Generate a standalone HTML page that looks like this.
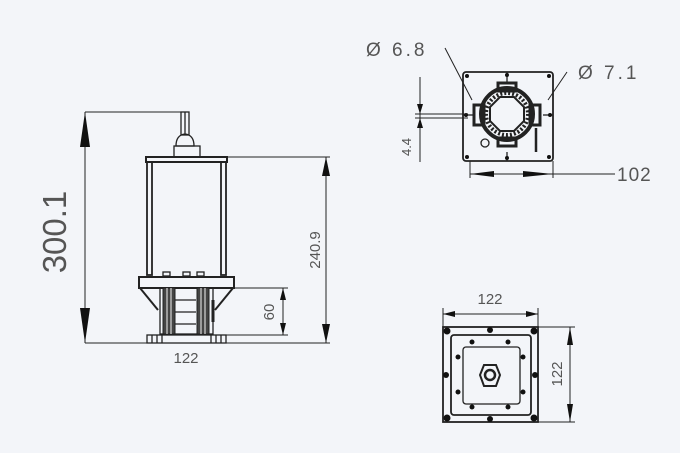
<!DOCTYPE html>
<html><head><meta charset="utf-8"><style>
html,body{margin:0;padding:0;background:#f3f5f9;}
svg{display:block;}
text{font-family:"Liberation Sans",sans-serif;fill:#555;}
</style></head><body>
<svg width="680" height="453" viewBox="0 0 680 453" xmlns="http://www.w3.org/2000/svg">
<rect width="680" height="453" fill="#f3f5f9"/>
<g stroke="#222" fill="none" stroke-width="1">
<line x1="85" y1="112" x2="185" y2="112"/>
<line x1="85" y1="112" x2="85" y2="343"/>
<line x1="85" y1="343" x2="330" y2="343"/>
</g>
<polygon points="85,112 80,147 90,147" fill="#111"/>
<polygon points="85,343 80,308 90,308" fill="#111"/>
<text transform="translate(66,232) rotate(-90)" font-size="33" text-anchor="middle" fill="#8a8a8a">300.1</text>

<g stroke="#222" fill="none" stroke-width="1.3">
<rect x="181" y="112" width="8" height="23"/>
<line x1="185" y1="112" x2="185" y2="135"/>
<path d="M176,146 Q176,135 185,134 Q194,135 194,146 Z"/>
<rect x="174" y="146" width="26" height="11"/>
<rect x="146" y="157" width="81" height="5" stroke-width="2"/>
<rect x="147" y="162" width="5" height="113" stroke-width="1.8"/>
<rect x="221" y="162" width="5" height="113" stroke-width="1.8"/>
<rect x="163" y="272" width="7" height="4"/>
<rect x="183" y="272" width="7" height="4"/>
<rect x="197" y="272" width="7" height="4"/>
<rect x="139" y="277" width="95" height="11" stroke-width="2"/>
<line x1="140" y1="288" x2="158" y2="310" stroke-width="2"/>
<line x1="233" y1="288" x2="215" y2="310" stroke-width="2"/>
<rect x="160" y="288" width="53" height="46"/>
<rect x="163" y="288" width="12" height="46" fill="#444" stroke-width="1"/>
<rect x="197" y="288" width="12" height="46" fill="#444" stroke-width="1"/>
<line x1="167" y1="288" x2="167" y2="334" stroke="#ccc"/>
<line x1="171" y1="288" x2="171" y2="334" stroke="#ccc"/>
<line x1="201" y1="288" x2="201" y2="334" stroke="#ccc"/>
<line x1="205" y1="288" x2="205" y2="334" stroke="#ccc"/>
<line x1="175" y1="300" x2="196" y2="300"/>
<line x1="175" y1="312" x2="196" y2="312"/>
<line x1="175" y1="324" x2="196" y2="324"/>
<line x1="213" y1="300" x2="213" y2="322" stroke-width="3"/>
<rect x="147" y="335" width="79" height="8"/>
<line x1="152" y1="335" x2="152" y2="343"/><line x1="157" y1="335" x2="157" y2="343"/><line x1="162" y1="335" x2="162" y2="343"/>
<line x1="211" y1="335" x2="211" y2="343"/><line x1="216" y1="335" x2="216" y2="343"/><line x1="221" y1="335" x2="221" y2="343"/>
</g>
<g stroke="#222" fill="none" stroke-width="1">
<line x1="227" y1="157" x2="330" y2="157"/>
<line x1="326" y1="157" x2="326" y2="343"/>
<line x1="233" y1="288" x2="288" y2="288"/>
<line x1="226" y1="335" x2="288" y2="335"/>
<line x1="283" y1="288" x2="283" y2="335"/>
</g>
<polygon points="326,157 322,176 330,176" fill="#111"/>
<polygon points="326,343 322,324 330,324" fill="#111"/>
<polygon points="283,288 280,300 286,300" fill="#111"/>
<polygon points="283,335 280,323 286,323" fill="#111"/>
<text transform="translate(320,250) rotate(-90)" font-size="15" text-anchor="middle">240.9</text>
<text transform="translate(274,312) rotate(-90)" font-size="15" text-anchor="middle">60</text>
<text x="186" y="363" font-size="15" text-anchor="middle">122</text>

<g stroke="#222" fill="none" stroke-width="1.3">
<rect x="463" y="72" width="90" height="89" rx="3" stroke-width="1.8"/>
<line x1="507" y1="72" x2="507" y2="82"/><line x1="507" y1="152" x2="507" y2="161"/>
<line x1="463" y1="115" x2="473" y2="115"/><line x1="543" y1="115" x2="553" y2="115"/>
<circle cx="507" cy="114" r="26" stroke-width="4"/>
<circle cx="507" cy="114" r="21" stroke-width="4" stroke-dasharray="2 2"/>
<rect x="498" y="83" width="18" height="8" stroke-width="3"/>
<rect x="498" y="138" width="18" height="8" stroke-width="3"/>
<rect x="474" y="105" width="10" height="20" stroke-width="3"/>
<rect x="530" y="105" width="10" height="20" stroke-width="3"/>
<polygon points="500,97 514,97 524,107 524,121 514,131 500,131 490,121 490,107" stroke-width="2"/>
<circle cx="485" cy="143" r="4"/>
<line x1="536" y1="128" x2="536" y2="152" stroke-width="2.5"/>
</g>
<g fill="#111">
<circle cx="467" cy="76" r="2"/><circle cx="549" cy="76" r="2"/><circle cx="467" cy="157" r="2"/><circle cx="549" cy="157" r="2"/>
<circle cx="507" cy="75" r="2"/><circle cx="507" cy="158" r="2"/><circle cx="466" cy="115" r="2"/><circle cx="550" cy="115" r="2"/>
</g>
<g stroke="#222" fill="none" stroke-width="1">
<line x1="445" y1="48" x2="472" y2="100"/>
<line x1="567" y1="72" x2="548" y2="100"/>
<line x1="420" y1="77" x2="420" y2="162"/>
<line x1="415" y1="114" x2="468" y2="114"/>
<line x1="415" y1="118" x2="468" y2="118"/>
<line x1="470" y1="161" x2="470" y2="178"/>
<line x1="553" y1="161" x2="553" y2="178"/>
<line x1="470" y1="174" x2="615" y2="174"/>
</g>
<polygon points="420,114 417,104 423,104" fill="#111"/>
<polygon points="420,118 417,128 423,128" fill="#111"/>
<polygon points="470,174 494,171 494,177" fill="#111"/>
<polygon points="553,174 523,171 523,177" fill="#111"/>
<text x="366" y="56" font-size="19" letter-spacing="3">Ø 6.8</text>
<text x="578" y="79" font-size="19" letter-spacing="3">Ø 7.1</text>
<text transform="translate(411,147) rotate(-90)" font-size="13" text-anchor="middle">4.4</text>
<text x="617" y="181" font-size="19" letter-spacing="1">102</text>

<g stroke="#222" fill="none" stroke-width="1">
<line x1="443" y1="308" x2="443" y2="327"/>
<line x1="538" y1="308" x2="538" y2="327"/>
<line x1="443" y1="314" x2="538" y2="314"/>
<line x1="538" y1="327" x2="575" y2="327"/>
<line x1="538" y1="422" x2="575" y2="422"/>
<line x1="570" y1="327" x2="570" y2="422"/>
</g>
<polygon points="443,314 455,311 455,317" fill="#111"/>
<polygon points="538,314 526,311 526,317" fill="#111"/>
<polygon points="570,327 567,345 573,345" fill="#111"/>
<polygon points="570,422 567,404 573,404" fill="#111"/>
<text x="490" y="304" font-size="15" text-anchor="middle">122</text>
<text transform="translate(562,374) rotate(-90)" font-size="15" text-anchor="middle">122</text>
<g stroke="#222" fill="none" stroke-width="1.8">
<rect x="443" y="327" width="95" height="95"/>
<rect x="451" y="335" width="80" height="80" rx="3"/>
<rect x="463" y="347" width="57" height="57" rx="3" stroke-width="1.3"/>
<polygon points="484,365 496,365 500,375 496,386 484,386 480,375" stroke-width="2"/>
<circle cx="490" cy="375" r="5" stroke-width="2.5"/>
</g>
<g fill="#111">
<circle cx="447" cy="331" r="3.5"/><circle cx="534" cy="331" r="3.5"/><circle cx="447" cy="418" r="3.5"/><circle cx="534" cy="418" r="3.5"/>
<circle cx="490" cy="330" r="3"/><circle cx="490" cy="419" r="3"/><circle cx="446" cy="375" r="3"/><circle cx="535" cy="375" r="3"/>
<circle cx="472" cy="342" r="2.5"/><circle cx="508" cy="342" r="2.5"/><circle cx="472" cy="407" r="2.5"/><circle cx="508" cy="407" r="2.5"/>
<circle cx="458" cy="357" r="2.5"/><circle cx="523" cy="357" r="2.5"/><circle cx="458" cy="392" r="2.5"/><circle cx="523" cy="392" r="2.5"/>
</g>
</svg>
</body></html>
